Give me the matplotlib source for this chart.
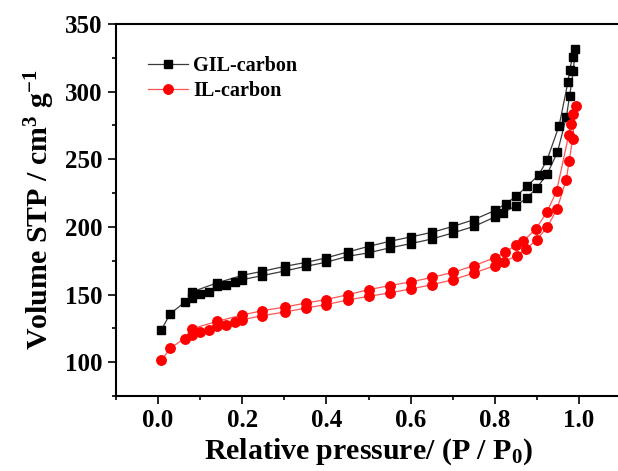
#!/usr/bin/env python3
"""N2 sorption isotherms of GIL-carbon and IL-carbon."""

import matplotlib
matplotlib.use("Agg")
import matplotlib.pyplot as plt
from matplotlib.ticker import MultipleLocator

# GIL-carbon: adsorption branch then desorption branch
gil_p = [0.008, 0.029, 0.063, 0.08, 0.10, 0.12, 0.14, 0.162, 0.182, 0.20,
         0.248, 0.302, 0.352, 0.398, 0.451, 0.50, 0.55, 0.60, 0.651, 0.701,
         0.751, 0.801, 0.82, 0.851, 0.876, 0.90, 0.925, 0.949, 0.97, 0.978,
         0.987, 0.991,
         0.985, 0.978, 0.974, 0.953, 0.924, 0.904, 0.876, 0.851, 0.826, 0.801,
         0.751, 0.701, 0.651, 0.60, 0.55, 0.50, 0.451, 0.398, 0.352, 0.302,
         0.248, 0.20, 0.14, 0.08]
gil_v = [124.0, 135.9, 144.2, 147.5, 150.1, 151.9, 156.0, 157.0, 159.0, 161.0,
         164.0, 167.5, 170.9, 173.8, 178.3, 180.8, 184.5, 187.6, 191.1, 195.6,
         200.4, 207.4, 210.3, 215.8, 221.4, 228.8, 239.4, 255.2, 281.0, 297.1,
         315.6, 331.7,
         325.4, 316.3, 307.2, 274.9, 249.3, 238.2, 230.0, 222.6, 217.2, 212.3,
         205.4, 200.4, 196.0, 192.6, 189.3, 185.6, 181.5, 177.0, 173.8, 170.9,
         167.2, 164.2, 158.6, 151.9]

# IL-carbon: adsorption branch then desorption branch
il_p = [0.008, 0.029, 0.063, 0.08, 0.10, 0.12, 0.14, 0.162, 0.182, 0.20,
        0.248, 0.302, 0.352, 0.398, 0.451, 0.50, 0.55, 0.60, 0.651, 0.701,
        0.751, 0.801, 0.822, 0.852, 0.875, 0.90, 0.925, 0.948, 0.97, 0.977,
        0.985, 0.992,
        0.986, 0.981, 0.976, 0.947, 0.924, 0.898, 0.867, 0.851, 0.825, 0.801,
        0.751, 0.701, 0.651, 0.60, 0.55, 0.50, 0.451, 0.398, 0.352, 0.302,
        0.248, 0.20, 0.14, 0.08]
il_v = [101.3, 110.5, 117.4, 120.3, 122.3, 124.0, 126.5, 127.7, 129.4, 131.4,
        134.4, 137.1, 140.1, 142.5, 146.0, 148.7, 151.2, 154.1, 157.3, 161.0,
        166.0, 171.4, 174.3, 178.8, 183.9, 190.6, 200.0, 213.3, 235.0, 249.0,
        265.0, 289.7,
        283.6, 276.2, 268.3, 226.5, 211.0, 198.5, 189.3, 186.9, 181.2, 177.3,
        171.4, 166.4, 162.7, 159.3, 156.6, 153.6, 149.9, 146.2, 143.8, 140.8,
        138.1, 134.9, 130.2, 124.6]

FONT = "Liberation Serif"
plt.rcParams["font.family"] = FONT
plt.rcParams["font.weight"] = "bold"
plt.rcParams["mathtext.fontset"] = "custom"
plt.rcParams["mathtext.rm"] = f"{FONT}:bold"
plt.rcParams["mathtext.it"] = f"{FONT}:bold"
plt.rcParams["mathtext.bf"] = f"{FONT}:bold"

fig = plt.figure(figsize=(6.18, 4.71), dpi=100)
# right edge of the frame falls just outside the picture, as in the original
ax = fig.add_axes([116 / 618, 75 / 471, 505 / 618, 372 / 471])

ax.plot(gil_p, gil_v, color="#3a3a3a", linewidth=0.9, marker="s",
        markersize=6.2, markerfacecolor="black", markeredgecolor="black",
        label="GIL-carbon", zorder=3)
ax.plot(il_p, il_v, color="#ff5555", linewidth=0.9, marker="o",
        markersize=6.8, markerfacecolor="red", markeredgecolor="red",
        label="IL-carbon", zorder=3)

ax.set_xlim(-0.1, 1.1)
ax.set_ylim(75, 350)
ax.xaxis.set_major_locator(MultipleLocator(0.2))
ax.xaxis.set_minor_locator(MultipleLocator(0.1))
ax.yaxis.set_major_locator(MultipleLocator(50))
ax.yaxis.set_minor_locator(MultipleLocator(25))
ax.set_xticks([0.0, 0.2, 0.4, 0.6, 0.8, 1.0])
ax.set_xticklabels(["0.0", "0.2", "0.4", "0.6", "0.8", "1.0"])

for side in ["left", "bottom", "top", "right"]:
    ax.spines[side].set_linewidth(1.5)

ax.tick_params(which="major", direction="out", length=5.5, width=1.2,
               labelsize=18, pad=4)
ax.tick_params(which="minor", direction="out", length=3, width=1.2)
ax.tick_params(top=False, right=False, which="both")

ax.set_xlabel("Relative pressure/ (P / P$_{0}$)", fontsize=21.5,
              fontweight="bold", labelpad=3)
ax.set_ylabel("Volume STP / cm$^{3}$ g$^{-1}$", fontsize=21.5,
              fontweight="bold", labelpad=6)

leg = ax.legend(loc="upper left", bbox_to_anchor=(0.047, 0.935), frameon=False,
                fontsize=14.5, handlelength=2.0, handletextpad=0.25,
                labelspacing=0.25, borderaxespad=0)

fig.savefig("out.png", dpi=100)
